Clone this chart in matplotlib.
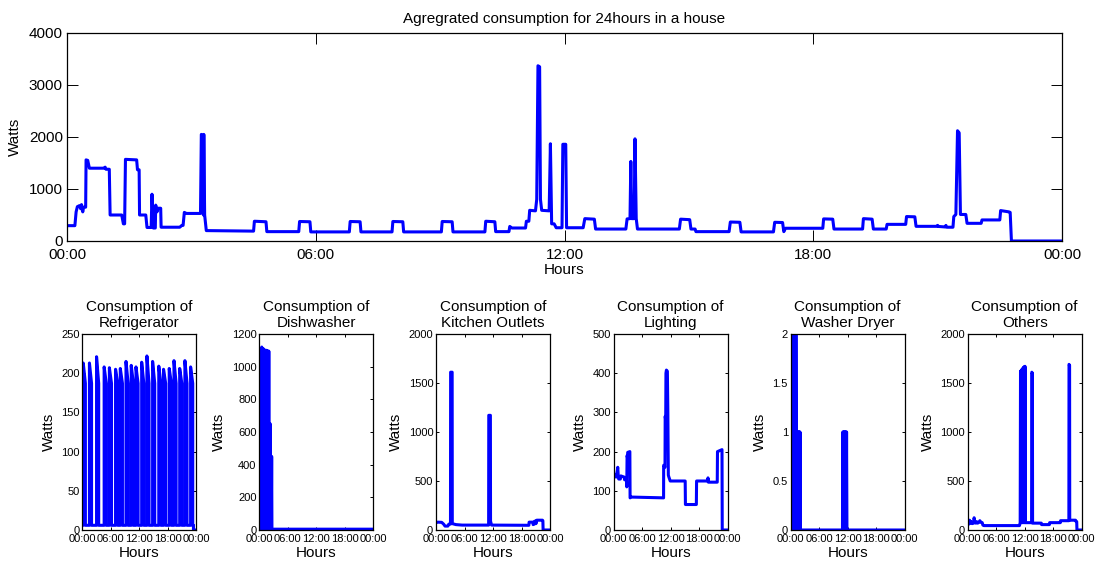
import matplotlib
matplotlib.use('Agg')
import matplotlib.pyplot as plt
from matplotlib.ticker import FuncFormatter

plt.rcParams['font.family'] = ['Liberation Sans', 'DejaVu Sans']

hour_ticks = [0, 6, 12, 18, 24]
hour_labels = ['00:00', '06:00', '12:00', '18:00', '00:00']

# aggregated house load (hours, watts)
agg_t = [0.00, 0.19, 0.22, 0.25, 0.30, 0.33, 0.35, 0.38, 0.40, 0.45, 0.46, 0.50, 0.54, 0.90, 0.92, 0.94,
         1.02, 1.04, 1.32, 1.36, 1.39, 1.41, 1.68, 1.70, 1.74, 1.75, 1.90, 1.93, 2.03, 2.05, 2.08, 2.13,
         2.14, 2.17, 2.20, 2.26, 2.27, 2.72, 2.77, 2.80, 2.83, 2.88, 3.22, 3.24, 3.27, 3.29, 3.30, 3.32,
         3.36, 4.50, 4.52, 4.80, 4.82, 5.59, 5.61, 5.86, 5.88, 6.81, 6.83, 7.07, 7.09, 7.84, 7.86, 8.10,
         8.12, 9.03, 9.05, 9.29, 9.31, 10.08, 10.10, 10.32, 10.34, 10.66, 10.68, 10.73, 10.77, 11.06,
         11.08, 11.14, 11.16, 11.30, 11.33, 11.36, 11.40, 11.42, 11.45, 11.63, 11.66, 11.69, 11.75, 11.80,
         11.94, 11.96, 12.03, 12.05, 12.45, 12.49, 12.72, 12.75, 13.48, 13.51, 13.58, 13.60, 13.62, 13.68,
         13.70, 13.73, 13.76, 14.77, 14.80, 15.02, 15.05, 15.15, 15.17, 15.97, 16.00, 16.23, 16.26, 17.04,
         17.07, 17.26, 17.29, 17.33, 18.23, 18.25, 18.47, 18.50, 19.19, 19.21, 19.42, 19.45, 19.76, 19.78,
         20.23, 20.25, 20.45, 20.48, 20.98, 21.00, 21.02, 21.18, 21.20, 21.22, 21.37, 21.39, 21.44, 21.48,
         21.52, 21.55, 21.68, 21.71, 22.05, 22.07, 22.50, 22.52, 22.72, 22.75, 22.78, 24.00]
agg_w = [295, 295, 560, 660, 680, 620, 700, 560, 650, 650, 1560, 1550, 1400, 1400, 1420, 1380,
         1380, 500, 500, 330, 330, 1570, 1560, 1370, 1370, 500, 500, 260, 260, 900, 250, 250,
         690, 560, 630, 630, 265, 265, 300, 300, 550, 530, 530, 2050, 2030, 500, 2050, 500,
         200, 190, 380, 370, 180, 180, 375, 370, 175, 175, 375, 370, 175, 175, 375, 370,
         175, 175, 375, 370, 175, 175, 380, 370, 180, 180, 280, 250, 250, 250,
         380, 380, 590, 580, 800, 3370, 3350, 800, 590, 580, 1870, 330, 330, 255,
         255, 1860, 1860, 255, 255, 430, 420, 230, 230, 425, 430, 1530, 430, 430,
         1965, 430, 230, 230, 420, 410, 230, 230, 180, 180, 365, 360, 175, 175,
         360, 355, 180, 245, 245, 425, 420, 230, 230, 430, 420, 230, 230, 320,
         320, 470, 465, 282, 282, 300, 280, 270, 300, 265, 265, 470, 510, 2120,
         2080, 510, 510, 340, 340, 405, 405, 585, 560, 550, 0, 0]

# refrigerator compressor cycles: start hour and peak watts
fridge_on = [0.2, 1.5, 3.0, 4.6, 5.7, 7.0, 8.0, 9.2, 10.3, 11.3,
             12.5, 13.6, 14.8, 16.1, 17.1, 18.3, 19.3, 20.5, 21.6, 22.8]
fridge_peak = [213, 213, 221, 208, 207, 205, 206, 215, 210, 208,
               214, 222, 215, 209, 205, 206, 216, 206, 216, 208]
fridge_tail = 187
fridge_idle = 6
fridge_off_at = 23.4

dish_t = [0.00, 0.06, 0.12, 0.18, 0.24, 0.30,
          0.36, 0.44, 0.52, 0.60, 0.68, 0.76, 0.84, 0.92, 1.00,
          1.06, 1.14,
          1.20, 1.28, 1.36, 1.44, 1.52, 1.60, 1.68, 1.76, 1.84, 1.92, 2.00, 2.08,
          2.14, 2.22, 2.30, 2.38,
          2.44, 2.52, 2.60,
          2.66, 24.0]
dish_w = [0, 220, 0, 220, 0, 220,
          1110, 0, 1120, 0, 1110, 0, 1110, 0, 1105,
          210, 0,
          1100, 0, 1100, 0, 1100, 0, 1095, 0, 1095, 0, 1095, 0,
          650, 0, 650, 0,
          450, 0, 450,
          5, 5]

kit_t = [0.00, 0.40, 1.20, 1.60, 1.90, 2.50, 2.70, 3.05, 3.08, 3.40, 3.43, 4.20, 5.50, 11.08, 11.11,
         11.45, 11.48, 11.70, 19.55, 19.60, 20.40, 20.45, 20.70, 20.75, 21.00, 21.05, 21.20, 22.40,
         22.50, 22.55, 24.00]
kit_w = [75, 80, 78, 60, 40, 40, 60, 60, 1610, 1610, 65, 55, 50, 50, 1170,
         1170, 90, 50, 48, 80, 80, 55, 60, 90, 90, 65, 100, 100,
         95, 0, 0]

light_t = [0.00, 0.30, 0.50, 0.75, 0.85, 0.95, 1.05, 1.40, 1.50, 2.20, 2.30, 2.70, 2.75, 2.82, 2.90,
           2.95, 3.40, 3.45, 3.70, 10.50, 10.52, 10.80, 10.84, 10.95, 11.00, 11.10, 11.30, 11.40, 11.50,
           11.62, 11.90, 15.05, 15.10, 17.40, 17.45, 19.80, 19.85, 19.92, 21.80, 21.85, 22.80, 22.85, 24.00]
light_w = [135, 140, 135, 150, 160, 140, 130, 130, 138, 135, 128, 128, 110, 190, 185,
           198, 200, 82, 84, 82, 165, 160, 290, 280, 400, 408, 405, 300, 140,
           135, 125, 125, 65, 65, 125, 125, 133, 122, 122, 200, 205, 0, 0]

wash_t = [0.00, 0.12, 0.16, 0.24, 0.32, 0.40, 0.48, 0.56, 0.64, 0.72, 0.80, 0.88, 0.96, 1.04, 1.10,
          1.16, 1.24, 1.32, 1.40, 1.48, 1.56, 1.64, 1.72, 1.80, 1.88, 1.96, 2.02,
          10.90, 10.96, 11.04, 11.12, 11.20, 11.28, 11.36, 11.44, 11.52, 11.60, 11.68, 11.76, 11.84,
          24.00]
wash_w = [0, 0, 2, 0, 2, 0, 2, 0, 2, 0, 2, 0, 2, 0, 2,
          1, 0, 1, 0, 1, 0, 1, 0, 1, 0, 1, 0,
          0, 1, 0, 1, 0, 1, 0, 1, 0, 1, 0, 1, 0,
          0]

oth_t = [0.00, 0.15, 0.25, 0.40, 0.55, 0.75, 0.95, 1.25, 1.35, 1.50, 1.70, 1.90, 2.10, 2.40, 2.55,
         2.75, 3.05, 3.20, 3.40, 10.90, 11.05, 11.12, 11.20, 11.28, 11.36, 11.44, 11.52, 11.60, 11.68,
         11.76, 11.84, 11.92, 12.00, 12.06, 12.12, 13.45, 13.50, 13.62, 13.66, 15.50, 15.55, 17.20,
         17.25, 19.50, 19.55, 21.30, 21.33, 21.45, 21.48, 22.70, 22.75, 22.95, 23.00, 24.00]
oth_w = [90, 95, 60, 100, 70, 85, 65, 70, 125, 80, 70, 85, 70, 80, 95,
         80, 75, 50, 45, 45, 75, 1620, 75, 1630, 75, 1640, 75, 1650, 75,
         1660, 75, 1665, 75, 1670, 75, 75, 1610, 1600, 70, 70, 55, 55,
         75, 75, 95, 95, 1690, 1680, 100, 100, 90, 85, 0, 0]

# expand the fridge cycles into a polyline
fridge_t = [0.0]
fridge_w = [fridge_idle]
for start, peak in zip(fridge_on, fridge_peak):
    fridge_t += [start, start, start + 0.45, start + 0.45]
    fridge_w += [fridge_idle, peak, fridge_tail, fridge_idle]
fridge_t += [fridge_off_at, fridge_off_at, 24.0]
fridge_w += [fridge_idle, 0, 0]

small = [
    ('Consumption of\nRefrigerator', fridge_t, fridge_w, 250, 50),
    ('Consumption of\nDishwasher', dish_t, dish_w, 1200, 200),
    ('Consumption of\nKitchen Outlets', kit_t, kit_w, 2000, 500),
    ('Consumption of\nLighting', light_t, light_w, 500, 100),
    ('Consumption of\nWasher Dryer', wash_t, wash_w, 2, 0.5),
    ('Consumption of\nOthers', oth_t, oth_w, 2000, 500),
]

W, H = 1109, 567
fig = plt.figure(figsize=(W / 100, H / 100), dpi=100)


def px_axes(x0, x1, y0, y1):
    return fig.add_axes([x0 / W, 1 - y1 / H, (x1 - x0) / W, (y1 - y0) / H])


def style(ax, ticklen, fs):
    ax.tick_params(direction='in', top=True, right=True, length=ticklen, width=0.7,
                   labelsize=fs, colors='black')
    for s in ax.spines.values():
        s.set_linewidth(0.9)
    ax.set_xlim(0, 24)
    ax.set_xticks(hour_ticks)
    ax.set_xticklabels(hour_labels)


ax = px_axes(67, 1062, 33, 241)
ax.plot(agg_t, agg_w, color='#0000ff', linewidth=2.2)
style(ax, 8, 11)
ax.set_ylim(0, 4000)
ax.set_yticks([0, 1000, 2000, 3000, 4000])
ax.tick_params(axis='x', pad=5)
ax.tick_params(axis='y', pad=3)
ax.set_title('Agregrated consumption for 24hours in a house', fontsize=11, pad=7)
ax.set_xlabel('Hours', fontsize=11, labelpad=1)
ax.set_ylabel('Watts', fontsize=11, labelpad=5)

lefts = [82.3, 259.3, 436.0, 613.7, 790.7, 967.7]
for left, (title, t, w, top, step) in zip(lefts, small):
    a = px_axes(left, left + 114, 334, 530)
    a.plot(t, w, color='#0000ff', linewidth=2.2)
    style(a, 2, 8)
    a.set_ylim(0, top)
    n = int(round(top / step))
    a.set_yticks([i * step for i in range(n + 1)])
    a.yaxis.set_major_formatter(FuncFormatter(lambda v, p: '%g' % v))
    a.tick_params(axis='x', pad=3)
    a.tick_params(axis='y', pad=2)
    a.set_title(title, fontsize=11, pad=5, linespacing=1.15)
    a.set_xlabel('Hours', fontsize=11, labelpad=1)
    a.set_ylabel('Watts', fontsize=11, labelpad=4)

fig.savefig('out.png', dpi=100)
